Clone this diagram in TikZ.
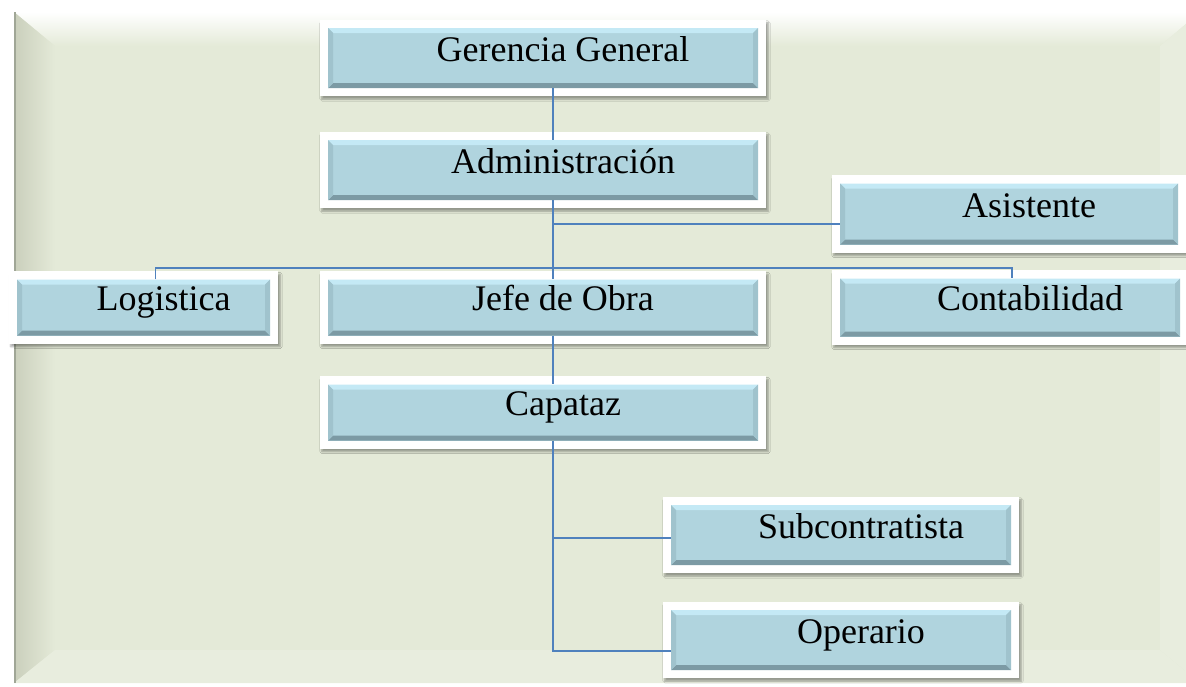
\documentclass[tikz,border=0pt]{standalone}
\usepackage{fontspec}
\setmainfont{Liberation Serif}
\usetikzlibrary{backgrounds,shadows.blur,calc}
\definecolor{panel}{RGB}{228,234,216}
\definecolor{panelsombra}{RGB}{202,207,188}
\definecolor{panelborde}{RGB}{160,166,150}
\definecolor{cajafill}{RGB}{176,212,222}
\definecolor{cajaluz}{RGB}{196,233,245}
\definecolor{cajalado}{RGB}{160,195,205}
\definecolor{cajaoscuro}{RGB}{124,154,164}
\definecolor{linea}{RGB}{79,129,189}

\begin{document}
\begin{tikzpicture}[x=1pt,y=-1pt,
  caja/.style={rectangle, fill=cajafill, inner sep=0pt, text height=24pt, text depth=18pt,
    font=\fontsize{36}{40}\selectfont, execute at begin node={\hspace*{40pt}},
    path picture={
      \fill[cajaluz] (path picture bounding box.north west) -- (path picture bounding box.north east)
        -- ([xshift=-5pt,yshift=-5pt]path picture bounding box.north east) -- ([xshift=5pt,yshift=-5pt]path picture bounding box.north west) -- cycle;
      \fill[cajaoscuro] (path picture bounding box.south west) -- (path picture bounding box.south east)
        -- ([xshift=-5pt,yshift=5pt]path picture bounding box.south east) -- ([xshift=5pt,yshift=5pt]path picture bounding box.south west) -- cycle;
      \fill[cajalado] (path picture bounding box.north west) -- (path picture bounding box.south west)
        -- ([xshift=5pt,yshift=5pt]path picture bounding box.south west) -- ([xshift=5pt,yshift=-5pt]path picture bounding box.north west) -- cycle;
      \fill[cajalado] (path picture bounding box.north east) -- (path picture bounding box.south east)
        -- ([xshift=-5pt,yshift=5pt]path picture bounding box.south east) -- ([xshift=-5pt,yshift=-5pt]path picture bounding box.north east) -- cycle;
    }},
  marco/.style={fill=white, blur shadow={shadow xshift=2pt, shadow yshift=-3pt, shadow blur steps=6, shadow opacity=35}},
  conector/.style={draw=linea, line width=1.6pt}]
\useasboundingbox (0,0) rectangle (1186,686);

% fondo con bisel
\begin{scope}[on background layer]
  \fill[panel] (14,12) rectangle (1200,683);
  \shade[top color=white, bottom color=panel] (14,12) -- (1200,12) -- (1160,46) -- (55,46) -- cycle;
  \shade[left color=panelsombra, right color=panel] (14,12) -- (55,46) -- (55,650) -- (14,683) -- cycle;
  \fill[panel!85!white] (14,683) -- (55,650) -- (1160,650) -- (1200,683) -- cycle;
  \fill[panel!85!white] (1200,12) -- (1160,46) -- (1160,650) -- (1200,683) -- cycle;
  \draw[panelborde, line width=2pt] (15,12) -- (15,683);
\end{scope}

% cajas
\node[caja, minimum width=430pt, minimum height=60pt] (ger) at (543,58) {Gerencia General};
\node[caja, minimum width=430pt, minimum height=60pt] (adm) at (543,170) {Administración};
\node[caja, minimum width=338pt, minimum height=61pt] (asi) at (1009,214) {Asistente};
\node[caja, minimum width=253pt, minimum height=56pt] (log) at (143.5,307.5) {Logistica};
\node[caja, minimum width=430pt, minimum height=56pt] (jef) at (543,307.5) {Jefe de Obra};
\node[caja, minimum width=340pt, minimum height=58pt] (con) at (1010,307.5) {Contabilidad};
\node[caja, minimum width=430pt, minimum height=56pt] (cap) at (543,412.5) {Capataz};
\node[caja, minimum width=340pt, minimum height=60pt] (sub) at (841,535) {Subcontratista};
\node[caja, minimum width=340pt, minimum height=60pt] (ope) at (841,640) {Operario};

\begin{scope}[on background layer]
  \foreach \n in {ger,adm,asi,log,jef,con,cap,sub,ope}
    \fill[marco] ([xshift=-8pt,yshift=8pt]\n.north west) rectangle ([xshift=8pt,yshift=-8pt]\n.south east);
\end{scope}

% conectores
\coordinate (ta) at ($(adm.south)+(10,24)$);
\coordinate (bus) at ($(adm.south)+(10,68)$);
\draw[conector] ([xshift=10pt]ger.south) -- ([xshift=10pt]adm.north);
\draw[conector] ([xshift=10pt]adm.south) -- ([xshift=10pt]jef.north);
\draw[conector] (ta) -- (ta -| asi.west);
\draw[conector] ([xshift=12pt]log.north) |- (bus) -| ([xshift=2pt]con.north);
\draw[conector] ([xshift=10pt]jef.south) -- ([xshift=10pt]cap.north);
\draw[conector] ([xshift=10pt]cap.south) |- ([yshift=-11pt]ope.west);
\draw[conector] ([xshift=10pt]cap.south |- sub.west) ++(0,3) -- ([yshift=-3pt]sub.west);
\end{tikzpicture}
\end{document}
